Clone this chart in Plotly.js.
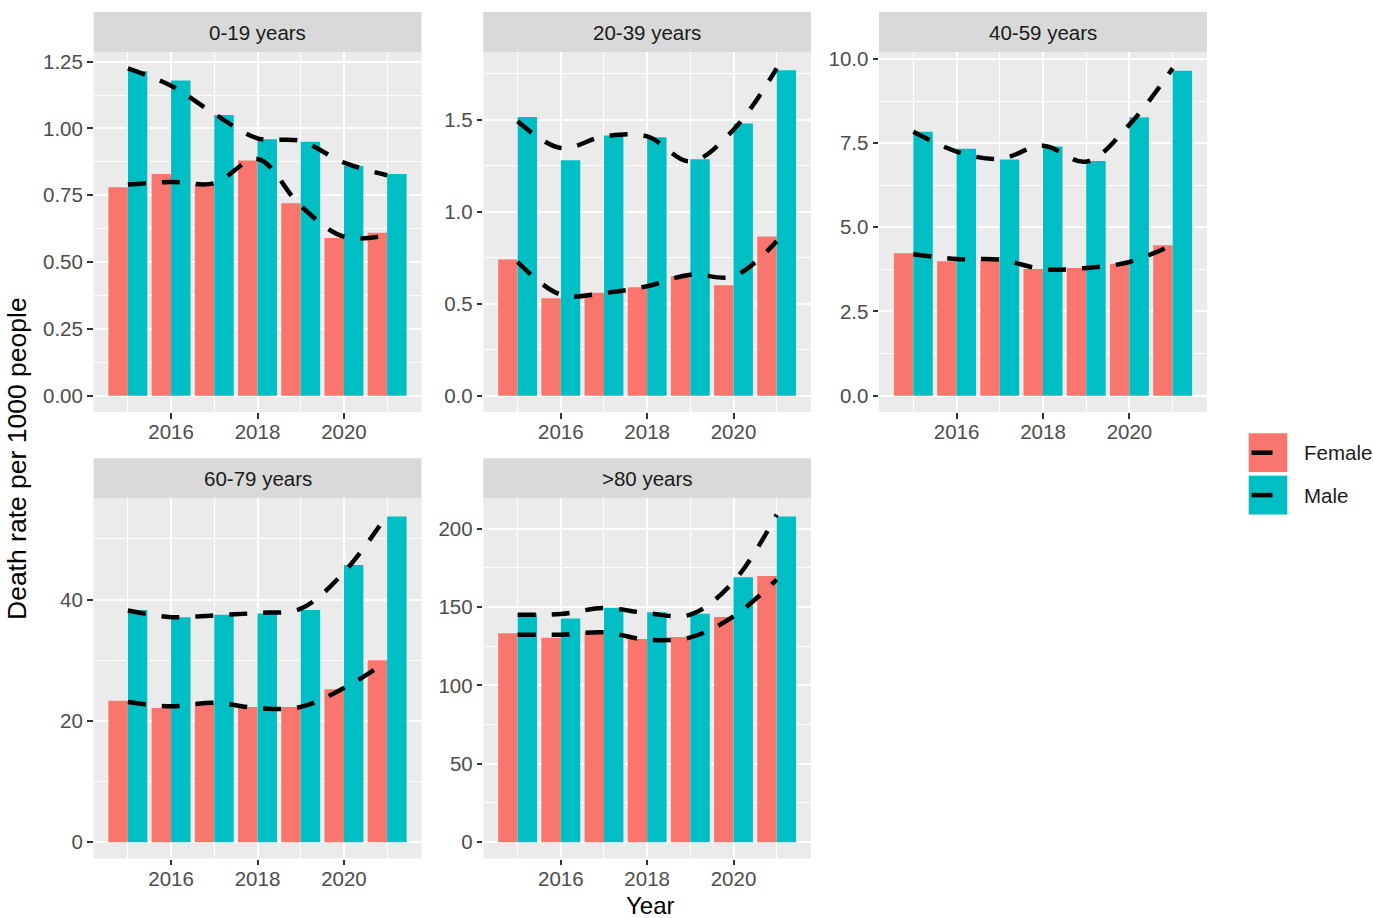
<!DOCTYPE html>
<html>
<head>
<meta charset="utf-8">
<script src="https://cdn.plot.ly/plotly-3.0.1.min.js"></script>
<style>
  html, body { margin: 0; padding: 0; background: #ffffff; }
  #chart { width: 1373px; height: 918px; }
</style>
</head>
<body>
<div id="chart"></div>
<script>
// ---- data: death rate per 1000 people, by year, sex and age group ----
const years = [2015, 2016, 2017, 2018, 2019, 2020, 2021];
const ageGroups = ['0-19 years', '20-39 years', '40-59 years', '60-79 years', '>80 years'];
const sexes = ['Female', 'Male'];
const sexColors = ['#F8766D', '#00BFC4'];

const female_0_19 = [0.78, 0.83, 0.79, 0.88, 0.72, 0.59, 0.61];
const male_0_19   = [1.215, 1.18, 1.05, 0.96, 0.95, 0.86, 0.83];
const femaleTrend_0_19 = [0.79, 0.80, 0.795, 0.886, 0.71, 0.595, 0.60];
const maleTrend_0_19   = [1.225, 1.16, 1.055, 0.963, 0.953, 0.872, 0.825];

const female_20_39 = [0.74, 0.53, 0.56, 0.59, 0.65, 0.60, 0.865];
const male_20_39   = [1.515, 1.28, 1.415, 1.405, 1.285, 1.48, 1.77];
const femaleTrend_20_39 = [0.727, 0.549, 0.558, 0.595, 0.658, 0.649, 0.84];
const maleTrend_20_39   = [1.492, 1.347, 1.41, 1.41, 1.274, 1.446, 1.78];

const female_40_59 = [4.23, 3.99, 4.04, 3.76, 3.79, 3.92, 4.47];
const male_40_59   = [7.84, 7.33, 7.01, 7.40, 6.97, 8.27, 9.65];
const femaleTrend_40_59 = [4.20, 4.06, 4.04, 3.76, 3.79, 3.97, 4.48];
const maleTrend_40_59   = [7.84, 7.25, 7.03, 7.42, 6.95, 8.05, 9.72];

const female_60_79 = [23.3, 22.1, 22.9, 22.3, 22.3, 25.2, 30.0];
const male_60_79   = [38.3, 37.1, 37.5, 37.7, 38.3, 45.7, 53.7];
const femaleTrend_60_79 = [23.1, 22.4, 23.0, 22.1, 22.3, 25.4, 29.8];
const maleTrend_60_79   = [38.2, 37.1, 37.4, 37.8, 38.5, 44.5, 54.0];

const female_80 = [133.3, 130.5, 133.9, 129.6, 130.9, 143.7, 169.8];
const male_80   = [145.8, 142.8, 149.6, 146.7, 145.8, 169.0, 207.9];
const femaleTrend_80 = [132.4, 132.4, 133.9, 129.2, 130.7, 144.1, 167.5];
const maleTrend_80   = [145.2, 145.6, 149.4, 146.2, 145.2, 166.2, 209.0];

const yTickStep   = [0.25, 0.5, 2.5, 20, 50];
const yTickFormat = ['.2f', '.1f', '.1f', 'd', 'd'];
const xTickLabels = [2016, 2018, 2020];

// ---- panel geometry (pixels in a 1373 x 918 page) ----
const W = 1373, H = 918;
const colX = [[93.5, 421.5], [483.3, 811], [879, 1207]];
const rows = [
  { strip: [12, 52], panel: [52, 412] },
  { strip: [458.3, 498.3], panel: [498.3, 858.5] }
];
const panelCell = [[0, 0], [0, 1], [0, 2], [1, 0], [1, 1]]; // [row, col]

const px = v => v / W;
const py = v => 1 - v / H;

const FONT = '"Liberation Sans", Arial, sans-serif';
const TEXT_SIZE = 20.5;
const series = [
  [female_0_19, male_0_19, femaleTrend_0_19, maleTrend_0_19],
  [female_20_39, male_20_39, femaleTrend_20_39, maleTrend_20_39],
  [female_40_59, male_40_59, femaleTrend_40_59, maleTrend_40_59],
  [female_60_79, male_60_79, femaleTrend_60_79, maleTrend_60_79],
  [female_80, male_80, femaleTrend_80, maleTrend_80]
];

const traces = [];
const layout = {
  width: W, height: H,
  margin: { l: 0, r: 0, t: 0, b: 0 },
  paper_bgcolor: '#ffffff',
  plot_bgcolor: '#EBEBEB',
  barmode: 'group',
  bargap: 0.1,
  bargroupgap: 0,
  showlegend: false,
  font: { family: FONT, color: '#4D4D4D' },
  shapes: [],
  annotations: []
};

// x range as ggplot computes it: bar extent plus 5% expansion
const xLo = years[0] - 0.45, xHi = years[years.length - 1] + 0.45;
const xPad = (xHi - xLo) * 0.05;

ageGroups.forEach((grp, i) => {
  const [r, c] = panelCell[i];
  const sfx = i === 0 ? '' : String(i + 1);
  const [fem, mal, femT, malT] = series[i];
  const M = Math.max(...fem, ...mal, ...femT, ...malT);
  const step = yTickStep[i];

  layout['xaxis' + sfx] = {
    domain: [px(colX[c][0]), px(colX[c][1])],
    anchor: 'y' + sfx,
    range: [xLo - xPad, xHi + xPad],
    tickmode: 'array',
    tickvals: xTickLabels,
    ticktext: xTickLabels.map(String),
    ticks: 'outside', ticklen: 5.5, tickwidth: 2, tickcolor: '#333333',
    ticklabelstandoff: -4,
    tickfont: { family: FONT, size: TEXT_SIZE, color: '#4D4D4D' },
    showgrid: true, gridcolor: '#ffffff', gridwidth: 2,
    minor: { tickmode: 'array', tickvals: years.filter(y => !xTickLabels.includes(y)),
             showgrid: true, gridcolor: '#ffffff', gridwidth: 1, ticks: '' },
    zeroline: false, showline: false, fixedrange: true
  };
  layout['yaxis' + sfx] = {
    domain: [py(rows[r].panel[1]), py(rows[r].panel[0])],
    anchor: 'x' + sfx,
    range: [-0.05 * M, 1.05 * M],
    tickmode: 'linear', tick0: 0, dtick: step,
    tickformat: yTickFormat[i],
    ticks: 'outside', ticklen: 5.5, tickwidth: 2, tickcolor: '#333333',
    tickfont: { family: FONT, size: TEXT_SIZE, color: '#4D4D4D' },
    showgrid: true, gridcolor: '#ffffff', gridwidth: 2,
    minor: { tick0: 0, dtick: step / 2, showgrid: true, gridcolor: '#ffffff', gridwidth: 1, ticks: '' },
    zeroline: false, showline: false, fixedrange: true
  };

  // dodged bars: female left, male right of each year
  [fem, mal].forEach((vals, k) => {
    traces.push({
      type: 'bar', x: years, y: vals, name: sexes[k],
      xaxis: 'x' + sfx, yaxis: 'y' + sfx,
      marker: { color: sexColors[k], line: { width: 0 } },
      hoverinfo: 'skip'
    });
  });
  // smoothed dashed trend per sex
  [femT, malT].forEach((vals, k) => {
    traces.push({
      type: 'scatter', mode: 'lines', x: years, y: vals, name: sexes[k] + ' trend',
      xaxis: 'x' + sfx, yaxis: 'y' + sfx,
      line: { color: '#000000', width: 4.5, dash: '18px,16px', shape: 'spline', smoothing: 1 },
      hoverinfo: 'skip'
    });
  });

  // facet strip
  layout.shapes.push({
    type: 'rect', xref: 'paper', yref: 'paper', layer: 'below',
    x0: px(colX[c][0]), x1: px(colX[c][1]),
    y0: py(rows[r].strip[1]), y1: py(rows[r].strip[0]),
    fillcolor: '#D9D9D9', line: { width: 0 }
  });
  layout.annotations.push({
    xref: 'paper', yref: 'paper',
    x: px((colX[c][0] + colX[c][1]) / 2), y: py((rows[r].strip[0] + rows[r].strip[1]) / 2),
    xanchor: 'center', yanchor: 'middle', showarrow: false,
    text: grp, font: { family: FONT, size: TEXT_SIZE, color: '#1A1A1A' }
  });
});

// axis titles
layout.annotations.push({
  xref: 'paper', yref: 'paper', x: px(650), y: py(905),
  xanchor: 'center', yanchor: 'middle', showarrow: false,
  text: 'Year', font: { family: FONT, size: 24, color: '#000000' }
});
layout.annotations.push({
  xref: 'paper', yref: 'paper', x: px(17), y: py(459),
  xanchor: 'center', yanchor: 'middle', showarrow: false, textangle: -90,
  text: 'Death rate per 1000 people', font: { family: FONT, size: 26.5, color: '#000000' }
});

// legend: filled key with a dash across it, then the label
const keyTop = [433.3, 475.7];
sexes.forEach((s, k) => {
  const y0 = keyTop[k], y1 = y0 + 38.8;
  layout.shapes.push({
    type: 'rect', xref: 'paper', yref: 'paper',
    x0: px(1247.8), x1: px(1288.2), y0: py(y1 + 0.6), y1: py(y0 - 0.6),
    fillcolor: '#F2F2F2', line: { width: 0 }
  });
  layout.shapes.push({
    type: 'rect', xref: 'paper', yref: 'paper',
    x0: px(1248.8), x1: px(1287.2), y0: py(y1), y1: py(y0),
    fillcolor: sexColors[k], line: { width: 0 }
  });
  layout.shapes.push({
    type: 'line', xref: 'paper', yref: 'paper',
    x0: px(1251.5), x1: px(1272.5), y0: py((y0 + y1) / 2), y1: py((y0 + y1) / 2),
    line: { color: '#000000', width: 4.5 }
  });
  layout.annotations.push({
    xref: 'paper', yref: 'paper', x: px(1302), y: py((y0 + y1) / 2),
    xanchor: 'left', yanchor: 'middle', showarrow: false,
    text: s, font: { family: FONT, size: TEXT_SIZE, color: '#1A1A1A' }
  });
});

Plotly.newPlot('chart', traces, layout, { staticPlot: true, displayModeBar: false });
</script>
</body>
</html>
